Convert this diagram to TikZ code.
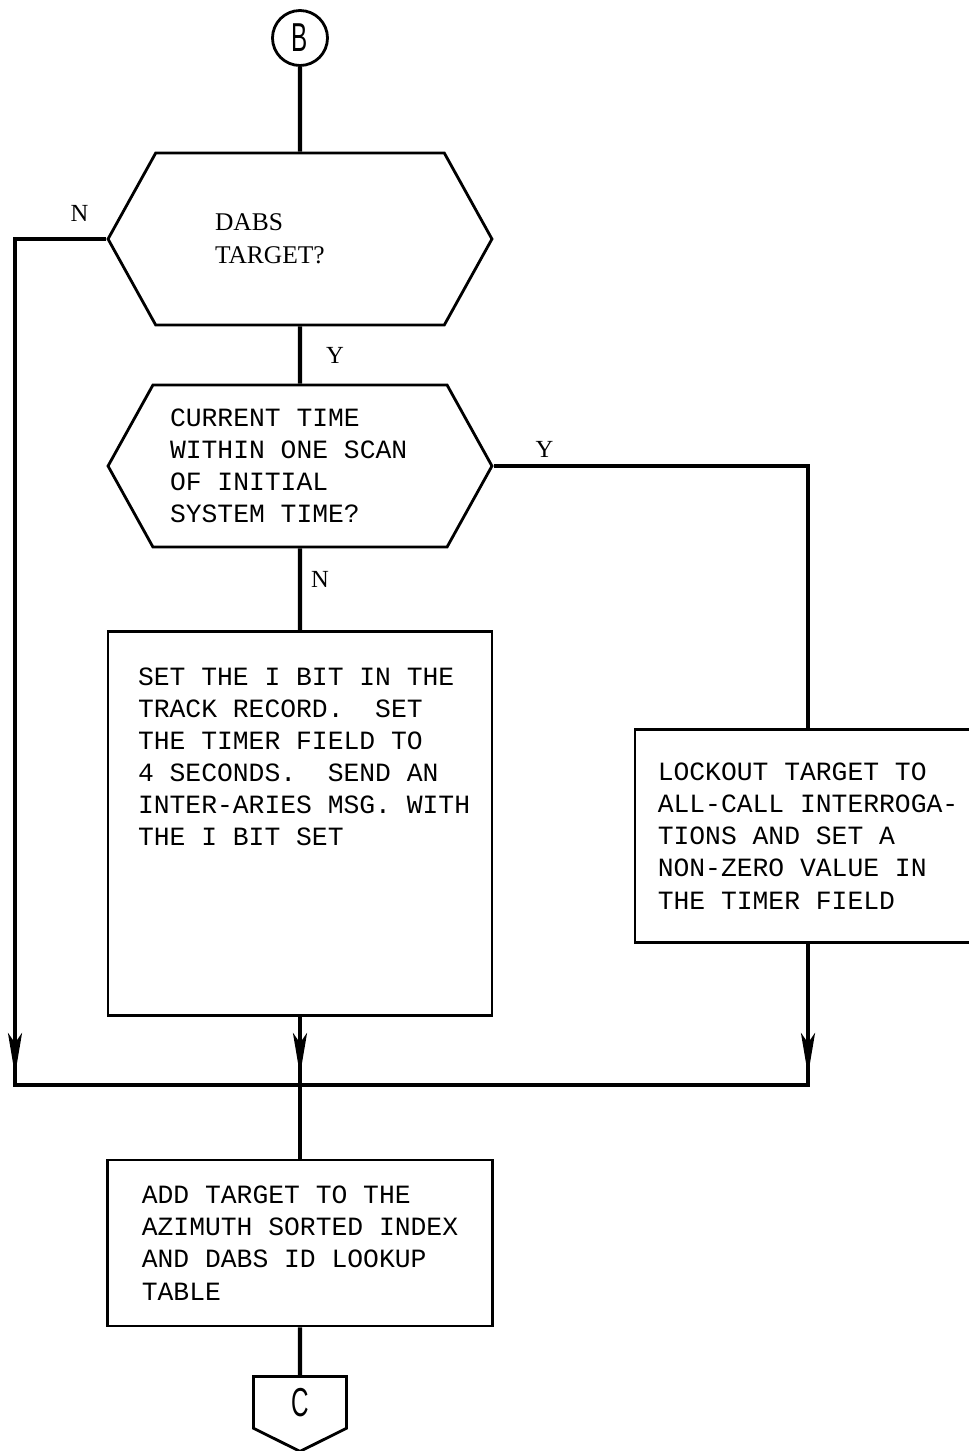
\documentclass[tikz,border=0pt]{standalone}
\usepackage{fontspec}
\setmainfont{Liberation Serif}
\newfontfamily\typefont{Liberation Mono}
\newfontfamily\tagfont[FakeStretch=0.6]{Liberation Sans}
\usetikzlibrary{positioning, arrows.meta, shapes.symbols, decorations.markings}

\begin{document}
\begin{tikzpicture}[
    x=0.02cm, y=-0.02cm,
    >={Stealth[length=0.84cm, width=0.28cm, inset=0.2cm]},
    tag/.style={circle, draw, line width=1.6pt, minimum size=1.1cm, inner sep=0pt,
                font=\tagfont\fontsize{23}{23}\selectfont},
    offpage/.style={signal, signal to=south, signal pointer angle=127, draw,
                line width=1.6pt, text width=1.36cm, align=center,
                inner xsep=0.25cm, inner ysep=0pt, minimum height=1.5cm,
                font=\tagfont\fontsize{23}{23}\selectfont},
    decision/.style={signal, signal to=west and east, signal pointer angle=122,
                draw, line width=1.6pt, minimum width=7.68cm, align=flush left,
                font=\fontsize{14.5}{19}\selectfont},
    process/.style={rectangle, draw, line width=1.6pt, align=left,
                font=\typefont\fontsize{15}{18.3}\selectfont},
    lbl/.style={font=\fontsize{14}{14}\selectfont, inner sep=0pt},
    line/.style={line width=2.4pt},
    flow/.style={line, postaction={decorate},
                decoration={markings, mark=at position -0.2cm with {\arrow{>}}}},
]
\useasboundingbox (0,0) rectangle (969,1451);

% --- entry and the two tests ---
\node[tag] (b) at (300,38) {B};
\node[decision, minimum height=3.44cm, text width=3.4cm] (dabs) at (300,239)
    {DABS\\TARGET?};
\node[decision, minimum height=3.24cm, text width=5.2cm,
      font=\typefont\fontsize{15}{18.3}\selectfont] (cur) at (300,466)
    {CURRENT TIME\\WITHIN ONE SCAN\\OF INITIAL\\SYSTEM TIME?};

% --- actions ---
\node[process, anchor=north, inner xsep=0.6cm, inner ysep=0.72cm] (set) at (300,630)
    {\parbox[t][6.24cm][t]{6.48cm}{\mbox{SET THE I BIT IN THE}\\
     \mbox{TRACK RECORD.\ \ SET}\\ \mbox{THE TIMER FIELD TO}\\
     \mbox{4 SECONDS.\ \ SEND AN}\\ \mbox{INTER-ARIES MSG. WITH}\\
     \mbox{THE I BIT SET}}};
\node[process, minimum width=6.92cm, minimum height=4.26cm] (lock) at (808,836)
    {LOCKOUT TARGET TO\\ALL-CALL INTERROGA-\\TIONS AND SET A\\NON-ZERO VALUE IN\\THE TIMER FIELD};
\node[process, minimum width=7.7cm, minimum height=3.32cm] (add) at (300,1243)
    {ADD TARGET TO THE\\AZIMUTH SORTED INDEX\\AND DABS ID LOOKUP\\TABLE};
\node[offpage, anchor=north] (c) at (300,1375) {C};

% --- joining bus ---
\coordinate (lft) at (15,1085);
\coordinate (mid) at (300,1085);
\coordinate (rgt) at (808,1085);

% --- connectors ---
\draw[line] (b) -- (dabs);
\draw[line] (dabs) -- node[lbl, xshift=0.7cm] {Y} (cur);
\draw[line] (cur) -- node[lbl, xshift=0.4cm, yshift=0.19cm] {N} (set);
\draw[line] (cur.east) -| node[lbl, at start, xshift=1.02cm, yshift=0.34cm] {Y} (lock.north);
\draw[flow] (dabs.west) -| node[lbl, at start, xshift=-0.54cm, yshift=0.52cm] {N} (lft);
\draw[flow] (set) -- (mid);
\draw[flow] (lock) -- (rgt);
\draw[line, line cap=rect] (lft) -- (rgt);
\draw[line] (mid) -- (add);
\draw[line] (add) -- (c);

\end{tikzpicture}
\end{document}
